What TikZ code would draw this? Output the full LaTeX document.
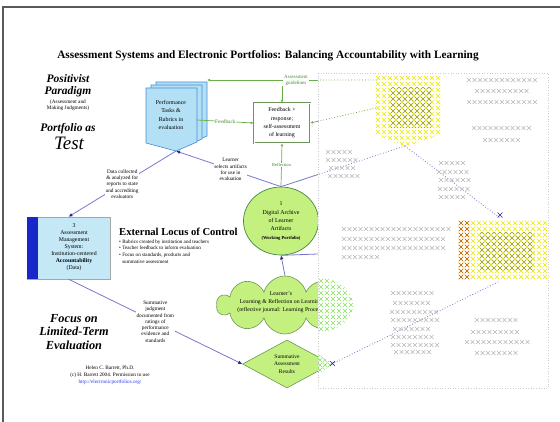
\documentclass[tikz,border=0pt]{standalone}
\usepackage{fontspec}
\setmainfont{Liberation Serif}
\usetikzlibrary{shapes.geometric,shapes.symbols,arrows.meta,calc}
\definecolor{docblue}{RGB}{180,224,246}
\definecolor{docedge}{RGB}{70,140,210}
\definecolor{boxblue}{RGB}{196,232,246}
\definecolor{barblue}{RGB}{24,40,200}
\definecolor{lgreen}{RGB}{196,240,128}
\definecolor{gedge}{RGB}{110,150,90}
\definecolor{gline}{RGB}{100,175,70}
\definecolor{gtext}{RGB}{60,140,40}
\definecolor{pline}{RGB}{120,120,200}
\definecolor{tipblue}{RGB}{30,40,130}
\definecolor{xyellow}{RGB}{235,235,0}
\definecolor{xolive}{RGB}{150,150,30}
\definecolor{xorange}{RGB}{200,90,20}
\definecolor{xgreen}{RGB}{140,225,100}
\definecolor{framegray}{RGB}{90,90,90}
\definecolor{linkblue}{RGB}{40,60,230}

% one row of x marks: [colour]{x1}{x2}{y}
\newcommand\xrow[4][gray!55]{%
  \pgfmathsetmacro\xsecA{#2+5.5}%
  \foreach \xx in {#2,\xsecA,...,#3}{\draw[#1,line width=.4pt] (\xx-2,#4-2) -- (\xx+2,#4+2) (\xx-2,#4+2) -- (\xx+2,#4-2);}}
% a grid of x marks: {colour}{x1}{x2}{y1}{y2}{step}
\newcommand\xgrid[6]{%
  \pgfmathsetmacro\xsecB{#2+#6}\pgfmathsetmacro\ysecB{#4+#6}%
  \foreach \yy in {#4,\ysecB,...,#5}{\foreach \xx in {#2,\xsecB,...,#3}{%
    \draw[#1,line width=.5pt] (\xx-2.3,\yy-2.3) -- (\xx+2.3,\yy+2.3) (\xx-2.3,\yy+2.3) -- (\xx+2.3,\yy-2.3);}}}

\tikzset{
  lbl/.style={fill=white, inner sep=0.6pt, align=center, font=\fontsize{5.3}{6.3}\selectfont},
  pl/.style={draw=pline, line width=0.8pt},
  tip/.style={-{Latex[length=4pt,width=3.6pt,color=tipblue]}},
  gl/.style={draw=gline, line width=0.7pt},
  gtip/.style={-{Latex[length=3pt,width=2.6pt,color=gline]}},
  heading/.style={font=\bfseries\itshape\fontsize{11.5}{12}\selectfont, align=center, inner sep=0},
  boxtext/.style={align=center, font=\fontsize{5.9}{8.3}\selectfont, inner sep=0},
}

\begin{document}
\begin{tikzpicture}[x=1pt,y=-1pt]
\useasboundingbox (0,0) rectangle (560,422);
\draw[framegray, line width=1.3pt] (3,422) -- (3,7) -- (560,7);

% title
\node[font=\bfseries\fontsize{11.3}{13}\selectfont, inner sep=0] (title) at (268,56)
  {Assessment Systems and Electronic Portfolios: Balancing Accountability with Learning};

% left headings
\node[heading] (pos) at (68,86) {Positivist\\Paradigm};
\node[font=\fontsize{5.3}{6}\selectfont, align=center, inner sep=0] (possub) at (68,105) {(Assessment and\\Making Judgments)};
\node[heading] (pas) at (68,128.5) {Portfolio as};
\node[font=\itshape\fontsize{19}{19}\selectfont, inner sep=0] (test) at (69,143) {Test};

% performance tasks document stack
\foreach \dx/\dy in {10/-6,5/-3,0/0}
  \draw[fill=docblue, draw=docedge, line width=0.6pt]
    (146+\dx,88+\dy) -- (197+\dx,88+\dy) -- (197+\dx,142+\dy) -- (176+\dx,151+\dy) -- (146+\dx,143+\dy) -- cycle;
\coordinate (doctip) at (176,151);
\coordinate (docright) at (197,120);
\coordinate (doctop) at (207,80);
\node[boxtext] (perf) at (171,115) {Performance\\Tasks \&\\Rubrics in\\evaluation};

% feedback box
\node[draw=gedge, line width=0.45pt, double=white, double distance=0.8pt, fill=white,
      minimum width=56pt, minimum height=40pt, boxtext] (fb) at (282,123) {Feedback +\\response;\\self-assessment\\of learning};

\node[font=\fontsize{5}{5.8}\selectfont, text=gtext, align=center, inner sep=1pt] (ag) at (296,80) {Assessment\\guidelines};
\draw[gl,gtip] (ag.west) -- (doctop);
\draw[gl,gtip] (ag.south -| fb.north) -- (fb.north);
\draw[gl,gtip] (docright) -- (fb.west) node[midway, lbl, text=gtext] (fbl) {Feedback};

% digital archive
\node[ellipse, draw=gray!70!green!80!black, line width=0.7pt, fill=lgreen, minimum width=75pt, minimum height=68pt,
      boxtext] (arch) at (281,221)
      {1\\Digital Archive\\of Learner\\Artifacts\\{\bfseries\fontsize{4.6}{5}\selectfont (Working Portfolio)}};
\draw[gl,gtip] (arch.north) -- (fb.south) node[midway, lbl, text=gtext, font=\fontsize{4.5}{5}\selectfont] (refl) {Reflection};
\draw[pl,tip] (arch.north) -- (doctip) node[pos=0.48, lbl] (lsel) {Learner\\selects artifacts\\for use in\\evaluation};

% assessment management system
\node[draw=gray!70, fill=boxblue, minimum width=83pt, minimum height=62pt, inner sep=0] (box3) at (68.5,248) {};
\fill[barblue] (box3.north west) rectangle ($(box3.south west)+(11,0)$);
\node[boxtext, font=\fontsize{5.8}{7}\selectfont] (box3t) at (74,247)
  {3\\Assessment\\Management\\System:\\Institution-centered\\\textbf{Accountability}\\(Data)};
\draw[pl,tip] (doctip) -- (box3.north) node[pos=0.5, lbl] (ldata)
  {Data collected\\\& analyzed for\\reports to state\\and accrediting\\evaluators};

% external locus of control
\node[anchor=west, font=\bfseries\fontsize{10.6}{12}\selectfont, inner sep=0] (ext) at (119,232) {External Locus of Control};
\node[anchor=north west, align=left, inner sep=0, font=\fontsize{5.1}{6.6}\selectfont] (extb) at (119,239.5)
  {• Rubrics created by institution and teachers\\
   • Teacher feedback to inform evaluation\\
   • Focus on standards, products and\\
   \phantom{• }summative assessment};

% summative assessment diamond
\node[diamond, draw=gedge, line width=0.6pt, fill=lgreen, minimum width=89pt, minimum height=48pt, aspect=1.85,
      inner sep=0, align=center, font=\fontsize{5.5}{7.4}\selectfont] (summ) at (287,364) {Summative\\Assessment\\Results};
\draw[pl,tip] (box3.south) -- (summ.west) node[pos=0.5, lbl] (ljud)
  {Summative\\judgment\\documented from\\ratings of\\performance\\evidence and\\standards};

% cloud
\node[cloud, cloud puffs=10, aspect=2.4, draw=gedge, line width=0.6pt, fill=lgreen, minimum width=136pt, minimum height=58pt,
      inner sep=0] (cloud) at (285,305) {};
\node[boxtext, font=\fontsize{5.8}{8}\selectfont] (cloudt) at (281,302)
  {Learner's\\Learning \& Reflection on Learning\\(reflective journal: Learning Process)};
\draw[pl,tip] (cloud.north) -- (arch.south);

% left bottom
\node[heading, font=\bfseries\itshape\fontsize{12.3}{13.5}\selectfont] (focus) at (74,332) {Focus on\\Limited-Term\\Evaluation};
\node[font=\fontsize{5.2}{7}\selectfont, align=center, inner sep=0] (cred) at (110,375)
  {Helen C. Barrett, Ph.D.\\(c) H. Barrett 2004. Permission to use\\\textcolor{linkblue}{http://electronicportfolios.org/}};

% connectors into the veiled half
\coordinate (ydtip) at (405,146);
\coordinate (ydtop) at (377,80);
\coordinate (ydleft) at (376,108);
\coordinate (yrtop) at (500,218);
\coordinate (yrbot) at (500,281);
\coordinate (hz) at (318,254);
\draw[gl] (ag.east) -- (ydtop);
\draw[gl,gtip] (ydleft) -- (fb.east);
\draw[pl] (ydtip) -- (arch.north);
\draw[pl] (arch.south) -- (hz);

% veil over the right half
\draw[gray!40, dotted, line width=0.6pt, fill=white] (318,73) rectangle (548,388);
\begin{scope}
  \clip (318,73) rectangle (548,388);
  \draw[gline, dotted, line width=0.8pt] (ag.east) -- (ydtop) (ydleft) -- (fb.east);
  \draw[pline, dotted, line width=0.8pt] (ydtip) -- (arch.north) (ydtip) -- (yrtop) (summ.east) -- (yrbot);
  % yellow document
  \begin{scope}
    \clip (375,75) -- (442,75) -- (442,134) -- (405,147) -- (375,134) -- cycle;
    \xgrid{xyellow}{378}{442}{78}{147}{6}
    \clip (389,88) rectangle (432,128);
    \xgrid{xolive}{381}{442}{81}{147}{6}
  \end{scope}
  % yellow rectangle
  \begin{scope}
    \clip (458,220) rectangle (547,281);
    \xgrid{xyellow}{461}{547}{223}{281}{6}
    \begin{scope}\clip (458,220) rectangle (471,281); \xgrid{xorange}{461}{472}{223}{281}{6}\end{scope}
    \clip (480,233) rectangle (534,271);
    \xgrid{xolive}{464}{547}{226}{281}{6}
  \end{scope}
  % cloud and diamond parts
  \begin{scope}
    \clip (318,305) ellipse (35 and 27);
    \xgrid{xgreen}{321}{354}{281}{333}{6}
  \end{scope}
  \begin{scope}
    \clip (318,354) -- (333,364) -- (318,374) -- cycle;
    \xgrid{xgreen}{320}{334}{355}{374}{5}
  \end{scope}
  \draw[tipblue, line width=.6pt] (330,361) -- (335,366) (330,366) -- (335,361);
  \draw[tipblue, line width=.6pt] (497.5,212.5) -- (502.5,217.5) (497.5,217.5) -- (502.5,212.5);
  % veiled texts
  \xrow{469}{538}{80}  \xrow{477}{530}{91}  \xrow{469}{540}{102}
  \xrow{474}{530}{128} \xrow{485}{522}{140}
  \xrow{328}{353}{152} \xrow{328}{358}{160} \xrow{331}{355}{168} \xrow{330}{362}{176}
  \xrow{441}{467}{163} \xrow{439}{471}{172} \xrow{441}{470}{180} \xrow{440}{470}{189} \xrow{441}{468}{197}
  \xrow{344}{452}{229} \xrow{344}{446}{239} \xrow{344}{447}{248} \xrow{344}{380}{257}
  \xrow{393}{436}{293} \xrow{395}{432}{303} \xrow{392}{438}{312} \xrow{393}{437}{320}
  \xrow{395}{433}{329} \xrow{393}{436}{337} \xrow{393}{437}{345} \xrow{396}{430}{352}
  \xrow{477}{520}{320} \xrow{473}{517}{332} \xrow{467}{530}{342} \xrow{477}{520}{353}
\end{scope}
\end{tikzpicture}
\end{document}
